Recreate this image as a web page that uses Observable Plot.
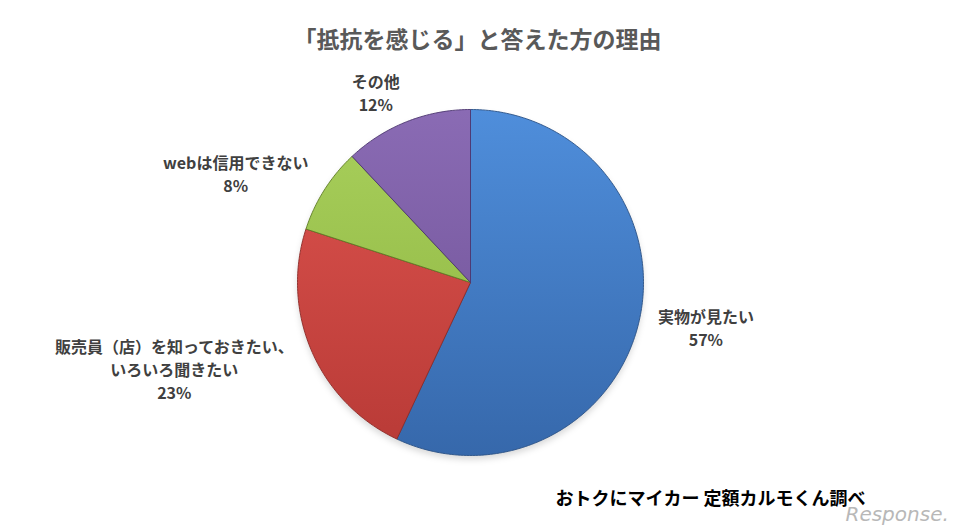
<!DOCTYPE html>
<html><head><meta charset="utf-8">
<script src="https://cdn.jsdelivr.net/npm/d3@7"></script>
<script src="https://cdn.jsdelivr.net/npm/@observablehq/plot@0.6"></script>
<style>body{margin:0;background:#fff} svg{display:block}</style>
</head><body><div id="chart"></div>
<script>
// ---- data ----
const title = "「抵抗を感じる」と答えた方の理由";
const categories = ["実物が見たい", "販売員（店）を知っておきたい、\nいろいろ聞きたい", "webは信用できない", "その他"];
const values = [57, 23, 8, 12];
const source = "おトクにマイカー 定額カルモくん調べ";
const watermark = "Response.";

// ---- layout / style ----
const W = 968, H = 529, CX = 470, CY = 282, R = 173;
const FONT = "'Noto Sans CJK JP', 'Noto Sans', sans-serif";
const palette = [
  {top: "#4f8edb", bottom: "#3668ab", edge: "#2b5286"},
  {top: "#de544f", bottom: "#b83a36", edge: "#8e2b28"},
  {top: "#a9d05c", bottom: "#8bb23f", edge: "#5f7d26"},
  {top: "#8a6bb4", bottom: "#6c4f93", edge: "#4c3670"}
];
const LABEL_FS = 16, LINE_H = 23, LRX = 192, LRY = 182;

const total = d3.sum(values);
let acc = 0;
const slices = categories.map((name, i) => {
  const a0 = acc / total * 2 * Math.PI; acc += values[i];
  const a1 = acc / total * 2 * Math.PI;
  return {name, value: values[i], a0, a1, i};
});
const pt = (a, r) => ({x: r * Math.sin(a), y: -r * Math.cos(a)});
const slicePts = slices.map(s => {
  const pts = [{x: 0, y: 0}];
  const n = Math.max(2, Math.ceil((s.a1 - s.a0) / (Math.PI / 180)));
  for (let k = 0; k <= n; k++) pts.push(pt(s.a0 + (s.a1 - s.a0) * k / n, R));
  pts.push({x: 0, y: 0});
  return pts;
});
const outline = d3.range(0, 361).map(d => pt(d * Math.PI / 180, R));

const ctx = document.createElement("canvas").getContext("2d");
ctx.font = `bold ${LABEL_FS}px ${FONT}`;
const labels = slices.map(s => {
  const text = s.name + "\n" + s.value + "%";
  const lines = text.split("\n");
  const w = d3.max(lines, l => ctx.measureText(l).width);
  const h = lines.length * LINE_H;
  const m = (s.a0 + s.a1) / 2;
  const ux = Math.sin(m), uy = -Math.cos(m);
  return {text, x: ux * LRX + Math.sign(ux) * w / 2, y: uy * LRY + uy * h / 2};
});

const marks = [
  Plot.line(outline, {x: "x", y: "y", fill: "#000", fillOpacity: 0.15, stroke: "none", dy: 4, imageFilter: "blur(3px)"}),
  ...slicePts.map((pts, i) => Plot.line(pts, {x: "x", y: "y", fill: `url(#grad${i})`, stroke: palette[i].edge, strokeWidth: 1, strokeOpacity: 0.9, strokeLinejoin: "round"})),
  Plot.text(labels, {x: "x", y: "y", text: "text", fontSize: LABEL_FS, fontWeight: "bold", fill: "#404040", lineHeight: LINE_H / LABEL_FS, textAnchor: "middle", lineAnchor: "middle"}),
  Plot.text([title], {text: d => d, frameAnchor: "top", dx: -7, dy: 31, fontSize: 23, fontWeight: "bold", fill: "#595959"}),
  Plot.text([source], {text: d => d, frameAnchor: "top-left", dx: 555, dy: 492, textAnchor: "start", fontSize: 18, fontWeight: "bold", fill: "#000"}),
  Plot.text([watermark], {text: d => d, frameAnchor: "top-left", dx: 845, dy: 506, textAnchor: "start", fontSize: 20, fill: "#b8b8b8", fontFamily: "'DejaVu Sans', sans-serif", fontStyle: "italic"})
];

const svg = Plot.plot({
  width: W, height: H, margin: 0,
  x: {domain: [-CX, W - CX], axis: null},
  y: {domain: [H - CY, -CY], axis: null},
  style: {fontFamily: FONT, background: "#fff", overflow: "visible"},
  marks
});

const defs = d3.select(svg).insert("defs", ":first-child");
palette.forEach((p, i) => {
  const g = defs.append("linearGradient").attr("id", `grad${i}`)
    .attr("gradientUnits", "userSpaceOnUse")
    .attr("x1", CX).attr("y1", CY - R).attr("x2", CX).attr("y2", CY + R);
  g.append("stop").attr("offset", "0%").attr("stop-color", p.top);
  g.append("stop").attr("offset", "100%").attr("stop-color", p.bottom);
});
document.getElementById("chart").appendChild(svg);
</script>
</body></html>
